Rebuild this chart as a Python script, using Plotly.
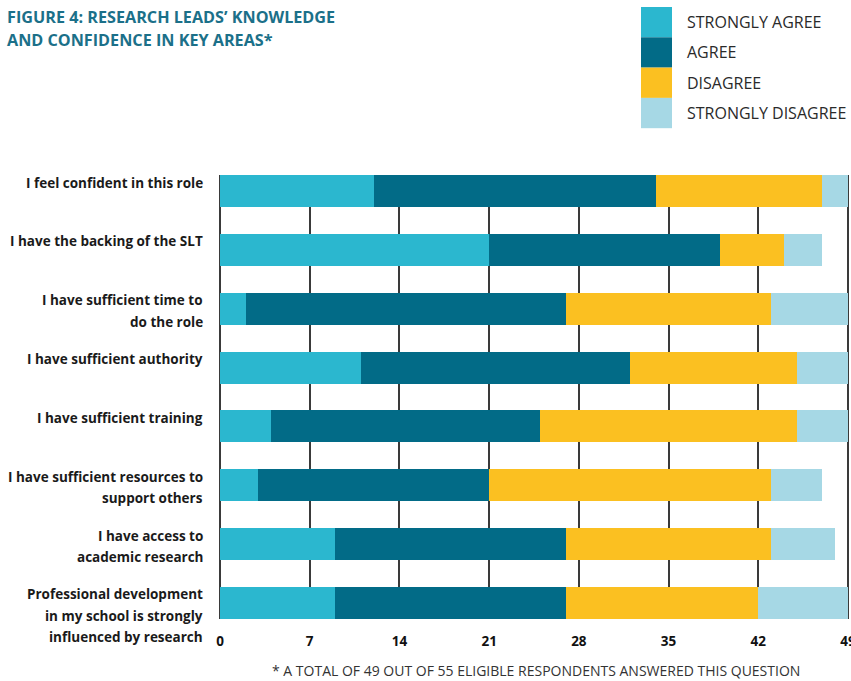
import plotly.graph_objects as go

# Survey statements (top to bottom) and response counts per category
statements = [
    ["I feel confident in this role"],
    ["I have the backing of the SLT"],
    ["I have sufficient time to", "do the role"],
    ["I have sufficient authority"],
    ["I have sufficient training"],
    ["I have sufficient resources to", "support others"],
    ["I have access to", "academic research"],
    ["Professional development", "in my school is strongly", "influenced by research"],
]
strongly_agree = [12, 21, 2, 11, 4, 3, 9, 9]
agree = [22, 18, 25, 21, 21, 18, 18, 18]
disagree = [13, 5, 16, 13, 20, 22, 16, 15]
strongly_disagree = [2, 3, 6, 4, 4, 4, 5, 7]

series_names = ["STRONGLY AGREE", "AGREE", "DISAGREE", "STRONGLY DISAGREE"]
series_values = [strongly_agree, agree, disagree, strongly_disagree]
series_colors = ["#2bb7cf", "#026b87", "#fbc021", "#a6d8e5"]

x_ticks = [0, 7, 14, 21, 28, 35, 42, 49]

title_lines = ["FIGURE 4: RESEARCH LEADS’ KNOWLEDGE", "AND CONFIDENCE IN KEY AREAS*"]
footnote = "* A TOTAL OF 49 OUT OF 55 ELIGIBLE RESPONDENTS ANSWERED THIS QUESTION"

label_font = "Open Sans, sans-serif"
positions = list(range(len(statements)))

W, H = 851, 681
PL, PR, PT, PB = 217, 0, 175, 62
plot_w = W - PL - PR
plot_h = H - PT - PB
pad_units = 3 * 49 / (plot_w - 6)  # 3 px breathing room at each end of the x range


def px_x(px):
    # horizontal pixel -> paper coordinate
    return (px - PL) / plot_w


def px_y(py):
    # vertical pixel (from top) -> paper coordinate
    return 1 + (PT - py) / plot_h


fig = go.Figure()
for name, vals, col in zip(series_names, series_values, series_colors):
    fig.add_trace(go.Bar(
        y=positions, x=vals, name=name, orientation="h",
        marker=dict(color=col, line=dict(width=0)),
        width=0.545, showlegend=False,
    ))

# Category labels, first line sitting just above the bar centre
line_gap = 21.5
for pos, lines in zip(positions, statements):
    for k, txt in enumerate(lines):
        fig.add_annotation(xref="paper", yref="y", x=px_x(205), y=pos,
                           yshift=8.5 - line_gap * k,
                           text=f"<b>{txt}</b>", showarrow=False,
                           xanchor="right", yanchor="middle",
                           font=dict(family=label_font, size=13.5, color="#1a1a1a"))

# Legend: stacked colour blocks with labels to the right
blk_left, blk_right = 641, 672
blk_top, blk_h = 7, 30.3
for i, (name, col) in enumerate(zip(series_names, series_colors)):
    y0 = blk_top + i * blk_h
    fig.add_shape(type="rect", xref="paper", yref="paper",
                  x0=px_x(blk_left), x1=px_x(blk_right),
                  y0=px_y(y0 + blk_h), y1=px_y(y0),
                  fillcolor=col, line=dict(width=0), layer="above")
    fig.add_annotation(xref="paper", yref="paper",
                       x=px_x(685), y=px_y(y0 + blk_h / 2),
                       text=name, showarrow=False, xanchor="left", yanchor="middle",
                       font=dict(family=label_font, size=16, color="#2a2a2a"))

# Two-line figure title
for k, txt in enumerate(title_lines):
    fig.add_annotation(xref="paper", yref="paper",
                       x=px_x(5), y=px_y(17 + 23.5 * k),
                       text=f"<b>{txt}</b>", showarrow=False,
                       xanchor="left", yanchor="middle", align="left",
                       font=dict(family=label_font, size=16.2, color="#1b7089"))

fig.add_annotation(xref="paper", yref="paper",
                   x=px_x(536), y=px_y(670),
                   text=footnote, showarrow=False, xanchor="center", yanchor="middle",
                   font=dict(family=label_font, size=14, color="#333333"))

fig.update_layout(
    barmode="stack",
    width=W, height=H,
    margin=dict(l=PL, r=PR, t=PT, b=PB, autoexpand=False),
    paper_bgcolor="white", plot_bgcolor="white",
    bargap=0,
    xaxis=dict(
        range=[-pad_units, 49 + pad_units], tickvals=x_ticks,
        ticktext=[f"<b>{t}</b>" for t in x_ticks],
        showgrid=True, gridcolor="#3a3a3a", gridwidth=2, zeroline=False,
        showline=False, ticks="", ticklabelstandoff=12, automargin=False,
        ticklabeloverflow="allow",
        tickfont=dict(family=label_font, size=13.5, color="#111111"),
        fixedrange=True,
    ),
    yaxis=dict(
        range=[7.2725, -0.2725], tickvals=positions,
        showticklabels=False,
        showgrid=False, zeroline=False, showline=False, ticks="",
        automargin=False, fixedrange=True,
    ),
    font=dict(family=label_font),
)

fig.write_html("out.html")
